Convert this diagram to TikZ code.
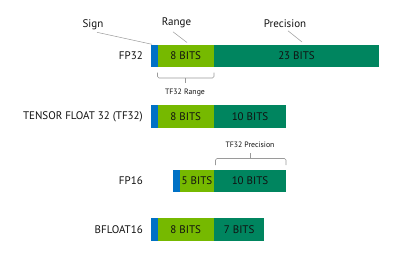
\documentclass[tikz,border=0pt]{standalone}
\usepackage{fontspec}
\setmainfont{PT Sans}
\definecolor{sgnblue}{HTML}{0071C5}
\definecolor{rnggreen}{HTML}{76B900}
\definecolor{prcgreen}{HTML}{00855F}
\definecolor{txt}{HTML}{111111}
\definecolor{leader}{HTML}{9A9A9A}
\begin{document}
\begin{tikzpicture}[x=1pt,y=-1pt,
  seg/.style={inner sep=0pt,outer sep=0pt,anchor=north west,text=txt,font=\fontsize{11}{12}\selectfont},
  rowlbl/.style={anchor=east,text=txt,font=\fontsize{11}{12}\selectfont,inner sep=0pt},
  toplbl/.style={text=txt,font=\fontsize{11}{12}\selectfont,inner sep=0pt},
  smalllbl/.style={text=txt,font=\fontsize{7.8}{9}\selectfont,inner sep=0pt},
  lead/.style={draw=leader,line width=0.5pt},
  brk/.style={draw=leader,line width=0.6pt,rounded corners=1.5pt}]
\useasboundingbox (0,0) rectangle (400,255);
% FP32
\node[seg,fill=sgnblue,minimum width=7pt,minimum height=22.5pt] (s1) at (150.5,44.8) {};
\node[seg,fill=rnggreen,minimum width=56.5pt,minimum height=22.5pt] (r1) at (157.5,44.8) {8 BITS};
\node[seg,fill=prcgreen,minimum width=165pt,minimum height=22.5pt] (p1) at (214,44.8) {23 BITS};
\node[rowlbl] (l1) at (143,56) {FP32};
% TF32
\node[seg,fill=sgnblue,minimum width=7pt,minimum height=22.5pt] (s2) at (150.5,105) {};
\node[seg,fill=rnggreen,minimum width=56.5pt,minimum height=22.5pt] (r2) at (157.5,105) {8 BITS};
\node[seg,fill=prcgreen,minimum width=72pt,minimum height=22.5pt] (p2) at (214,105) {10 BITS};
\node[rowlbl] (l2) at (143,116.3) {TENSOR FLOAT 32 (TF32)};
% FP16
\node[seg,fill=sgnblue,minimum width=6.7pt,minimum height=22.8pt] (s3) at (173.3,169.5) {};
\node[seg,fill=rnggreen,minimum width=34pt,minimum height=22.8pt] (r3) at (180,169.5) {5 BITS};
\node[seg,fill=prcgreen,minimum width=72pt,minimum height=22.8pt] (p3) at (214,169.5) {10 BITS};
\node[rowlbl] (l3) at (143,181) {FP16};
% BFLOAT16
\node[seg,fill=sgnblue,minimum width=7pt,minimum height=22.7pt] (s4) at (150.5,218.3) {};
\node[seg,fill=rnggreen,minimum width=56.5pt,minimum height=22.7pt] (r4) at (157.5,218.3) {8 BITS};
\node[seg,fill=prcgreen,minimum width=50.3pt,minimum height=22.7pt] (p4) at (214,218.3) {7 BITS};
\node[rowlbl] (l4) at (143,229.7) {BFLOAT16};
% top labels
\node[toplbl] (sign) at (93,24.5) {Sign};
\node[toplbl] (range) at (176.5,23) {Range};
\node[toplbl] (prec) at (285,24) {Precision};
\coordinate (sgnend) at (152,44.3);
\coordinate (rngend) at (187,42.5);
\coordinate (prcend) at (302,42);
\draw[lead] (97,32.3) -- (sgnend);
\draw[lead] (173,31.8) -- (rngend);
\draw[lead] (288,30.8) -- (prcend);
% TF32 Range bracket
\draw[brk] (157.5,72.5) -- (157.5,78) -- (214,78) -- (214,72.5);
\draw[brk] (185.5,78) -- (185.5,83);
\node[smalllbl] (rl) at (185,92.5) {TF32 Range};
% TF32 Precision bracket
\draw[brk] (215.5,165) -- (215.5,158.5) -- (286,158.5) -- (286,165);
\draw[brk] (250.5,158.5) -- (250.5,153);
\node[smalllbl] (pl) at (250,144.3) {TF32 Precision};
\end{tikzpicture}
\end{document}
